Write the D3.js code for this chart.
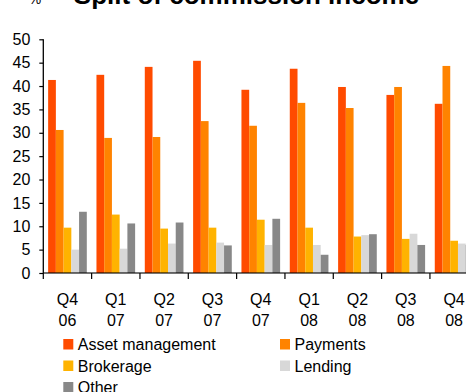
<!DOCTYPE html>
<html>
<head>
<meta charset="utf-8">
<script src="https://cdn.jsdelivr.net/npm/d3@7"></script>
<style>
  html, body { margin: 0; padding: 0; background: #fff; }
  svg { display: block; font-family: "Liberation Sans", Arial, sans-serif; }
</style>
</head>
<body>
<div id="chart"></div>
<script>
// Quarterly split of commission income, in %
const quarters = ["Q4", "Q1", "Q2", "Q3", "Q4", "Q1", "Q2", "Q3", "Q4"];
const years    = ["06", "07", "07", "07", "07", "08", "08", "08", "08"];
const seriesNames = ["Asset management", "Payments", "Brokerage", "Lending", "Other"];
const seriesColors = ["#ff4b00", "#ff8300", "#ffb300", "#d8d8d8", "#888888"];

const assetManagement = [41.3, 42.4, 44.1, 45.4, 39.2, 43.7, 39.8, 38.1, 36.2];
const payments        = [30.6, 28.9, 29.1, 32.5, 31.5, 36.4, 35.3, 39.8, 44.3];
const brokerage       = [9.7, 12.5, 9.5, 9.7, 11.4, 9.7, 7.8, 7.3, 6.9];
const lending         = [5.0, 5.2, 6.3, 6.5, 6.0, 6.0, 8.1, 8.4, 6.3];
const other           = [13.1, 10.6, 10.8, 5.9, 11.6, 3.9, 8.3, 6.0, 6.0];
const yTicks = [0, 5, 10, 15, 20, 25, 30, 35, 40, 45, 50];

const seriesValues = [assetManagement, payments, brokerage, lending, other];

const W = 466, H = 392;
const plotLeft = 43.3, plotBottom = 273, plotTop = 39.3;
const step = 48.33;

const svg = d3.select("#chart").append("svg")
  .attr("width", W).attr("height", H);

const x = d3.scaleBand()
  .domain(d3.range(quarters.length))
  .range([plotLeft, plotLeft + step * quarters.length])
  .paddingInner(0).paddingOuter(0);

const xs = d3.scaleBand()
  .domain(seriesNames)
  .range([0, x.bandwidth()])
  .paddingInner(0).paddingOuter(0.625);

const y = d3.scaleLinear().domain([0, 50]).range([plotBottom, plotTop]);

// Title and unit
svg.append("text")
  .attr("x", 246.5).attr("y", 4)
  .attr("text-anchor", "middle")
  .attr("font-size", 26).attr("font-weight", "bold")
  .text("Split of commission income");
svg.append("text")
  .attr("x", 35).attr("y", 4)
  .attr("text-anchor", "middle")
  .attr("font-size", 14)
  .text("%");

// Bars
const groups = svg.append("g").selectAll("g")
  .data(quarters.map((q, i) => i))
  .join("g")
  .attr("transform", i => `translate(${x(i)},0)`);

groups.selectAll("rect")
  .data(i => seriesNames.map((s, k) => ({ s, k, v: seriesValues[k][i] })))
  .join("rect")
  .attr("x", d => xs(d.s))
  .attr("width", xs.bandwidth())
  .attr("y", d => y(d.v))
  .attr("height", d => y(0) - y(d.v))
  .attr("fill", d => seriesColors[d.k]);

// Y axis
const yAxis = d3.axisLeft(y).tickValues(yTicks).tickSize(4).tickPadding(9);
const yg = svg.append("g")
  .attr("transform", `translate(${plotLeft},0)`)
  .call(yAxis);
yg.select(".domain").attr("stroke", "#000").attr("stroke-width", 1.3)
  .attr("d", `M0,${plotTop}V${plotBottom}`);
yg.selectAll(".tick line").attr("stroke", "#000").attr("stroke-width", 1.2);
yg.selectAll(".tick text").attr("font-size", 16).attr("fill", "#000")
  .attr("font-family", "Liberation Sans, Arial, sans-serif");

// X axis baseline with tick marks at group boundaries
const xg = svg.append("g");
xg.append("line")
  .attr("x1", plotLeft).attr("x2", W)
  .attr("y1", y(0)).attr("y2", y(0))
  .attr("stroke", "#000").attr("stroke-opacity", 0.55).attr("stroke-width", 2);
xg.selectAll("line.tk")
  .data(d3.range(quarters.length + 1))
  .join("line").attr("class", "tk")
  .attr("x1", i => plotLeft + step * i).attr("x2", i => plotLeft + step * i)
  .attr("y1", y(0)).attr("y2", y(0) + 6)
  .attr("stroke", "#000").attr("stroke-width", 1.2);

const labels = xg.selectAll("text.xl")
  .data(quarters.map((q, i) => i))
  .join("text").attr("class", "xl")
  .attr("text-anchor", "middle")
  .attr("font-size", 16);
labels.append("tspan").attr("x", i => x(i) + x.bandwidth() / 2).attr("y", 305).text(i => quarters[i]);
labels.append("tspan").attr("x", i => x(i) + x.bandwidth() / 2).attr("y", 326).text(i => years[i]);

// Legend
const legendPos = [[63.3, 350], [280, 350], [63.3, 371.5], [280, 371.5], [63.3, 393]];
const lg = svg.append("g").selectAll("g")
  .data(seriesNames)
  .join("g")
  .attr("transform", (d, i) => `translate(${legendPos[i][0]},${legendPos[i][1]})`);
lg.append("rect")
  .attr("x", 0).attr("y", -11).attr("width", 10).attr("height", 10.5)
  .attr("fill", (d, i) => seriesColors[i]);
lg.append("text")
  .attr("x", 14.5).attr("y", 0)
  .attr("font-size", 16)
  .text(d => d);
</script>
</body>
</html>
